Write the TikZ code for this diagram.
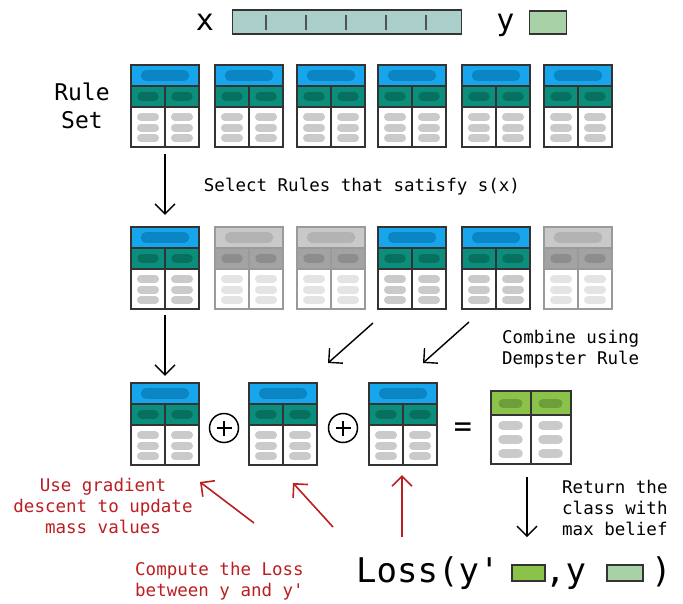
\documentclass[tikz,border=0pt]{standalone}
\usepackage{fontspec}
\setmonofont{DejaVu Sans Mono}
\usetikzlibrary{arrows.meta}

\definecolor{hdblue}{HTML}{17A6EC}
\definecolor{hdbluepill}{HTML}{0B85C4}
\definecolor{massteal}{HTML}{0B8E7C}
\definecolor{masstealpill}{HTML}{08705F}
\definecolor{bodypill}{HTML}{CACACA}
\definecolor{framedark}{HTML}{333333}
\definecolor{fadehd}{HTML}{C9C9C9}
\definecolor{fadehdpill}{HTML}{B3B3B3}
\definecolor{fadems}{HTML}{A3A3A3}
\definecolor{fademspill}{HTML}{8D8D8D}
\definecolor{fadebodypill}{HTML}{E4E4E4}
\definecolor{fadeframe}{HTML}{9A9A9A}
\definecolor{beliefgreen}{HTML}{8BC34A}
\definecolor{beliefpill}{HTML}{6E9E3A}
\definecolor{xbar}{HTML}{AACFCB}
\definecolor{ybox}{HTML}{A8D1A8}
\definecolor{lossred}{HTML}{BB1E22}

% colour sets for one rule table
\newcommand{\activecols}{\colorlet{hdc}{hdblue}\colorlet{hdp}{hdbluepill}%
  \colorlet{msc}{massteal}\colorlet{msp}{masstealpill}%
  \colorlet{bdp}{bodypill}\colorlet{frc}{framedark}}
\newcommand{\fadedcols}{\colorlet{hdc}{fadehd}\colorlet{hdp}{fadehdpill}%
  \colorlet{msc}{fadems}\colorlet{msp}{fademspill}%
  \colorlet{bdp}{fadebodypill}\colorlet{frc}{fadeframe}}

% rule table: name, left, top, colour set
\newcommand{\ruletab}[4]{%
  \begin{scope}[shift={(#2,#3)}]
    #4
    \fill[hdc] (0,0) rectangle (68,21);
    \fill[msc] (0,21) rectangle (68,42);
    \fill[white] (0,42) rectangle (68,82);
    \draw[pill=hdp, line width=10.5pt] (15,10.5) -- (53,10.5);
    \foreach \cx in {17,51} {
      \draw[pill=msp, line width=9.5pt] (\cx-6,31.5) -- (\cx+6,31.5);
      \foreach \cy in {52,62.5,73}
        \draw[pill=bdp, line width=8pt] (\cx-7,\cy) -- (\cx+7,\cy);
    }
    \draw[frc, line width=1.3pt] (0,0) rectangle (68,82)
      (0,21) -- (68,21) (0,42) -- (68,42) (34,21) -- (34,82);
    \node[minimum width=68pt, minimum height=82pt, inner sep=0pt] (#1) at (34,41) {};
  \end{scope}}

\begin{document}
\begin{tikzpicture}[x=1pt, y=-1pt,
    pill/.style={#1, line cap=round},
    txt/.style={font=\ttfamily\fontsize{17.5}{21}\selectfont, inner sep=0pt},
    note/.style={txt, text=lossred, align=center},
    bigtxt/.style={font=\ttfamily\fontsize{#1}{#1}\selectfont, inner sep=0pt},
    arr/.style={-{Straight Barb[length=10pt,width=20pt]}, line width=1.4pt},
    redarr/.style={arr, draw=lossred, line width=1.6pt},
    swatch/.style={draw=framedark, line width=1.4pt, inner sep=0pt}]

  \useasboundingbox (0,0) rectangle (683,603);

  % ====== input x and label y ======
  \node[bigtxt=30, anchor=base] (xlab) at (205,30) {x};
  \node[swatch, fill=xbar, minimum width=229pt, minimum height=24pt] (xvec) at (347,22) {};
  \foreach \tx in {266,306,346,386,426}
    \draw[framedark!85, line width=1.2pt] (\tx,15) -- (\tx,30);
  \node[bigtxt=30, anchor=base] (ylab) at (505.5,30) {y};
  \node[swatch, fill=ybox, minimum width=37pt, minimum height=23pt] (yvec) at (548,22.5) {};

  % ====== rule set ======
  \node[align=center, anchor=north, inner sep=0pt, font=\ttfamily\fontsize{23}{28}\selectfont] (rulelab) at (82,82.5) {Rule\\Set};
  \ruletab{r1}{131}{65}{\activecols}
  \ruletab{r2}{215}{65}{\activecols}
  \ruletab{r3}{297}{65}{\activecols}
  \ruletab{r4}{378}{65}{\activecols}
  \ruletab{r5}{462}{65}{\activecols}
  \ruletab{r6}{544}{65}{\activecols}

  \node[txt, anchor=base] (selectlab) at (362,191) {Select Rules that satisfy s(x)};

  % ====== selected rules ======
  \ruletab{s1}{131}{227}{\activecols}
  \ruletab{s2}{215}{227}{\fadedcols}
  \ruletab{s3}{297}{227}{\fadedcols}
  \ruletab{s4}{378}{227}{\activecols}
  \ruletab{s5}{462}{227}{\activecols}
  \ruletab{s6}{544}{227}{\fadedcols}

  \node[txt, align=left, anchor=north west] (combinelab) at (502,330) {Combine using\\Dempster Rule};

  % ====== combination ======
  \ruletab{c1}{131}{383}{\activecols}
  \ruletab{c2}{249}{383}{\activecols}
  \ruletab{c3}{369}{383}{\activecols}

  \node[circle, draw, line width=1.5pt, minimum size=29pt, inner sep=0pt] (o1) at (224,428) {};
  \node[circle, draw, line width=1.5pt, minimum size=29pt, inner sep=0pt] (o2) at (343,428) {};
  \foreach \o in {o1,o2}
    \draw[line width=1.5pt] (\o.center) +(-7.5,0) -- +(7.5,0) +(0,-7.5) -- +(0,7.5);
  \node[bigtxt=30] (eq) at (463,430) {=};

  % belief table
  \begin{scope}[shift={(491,391)}]
    \fill[beliefgreen] (0,0) rectangle (80,24);
    \fill[white] (0,24) rectangle (80,73);
    \foreach \cx in {19.5,59.5} {
      \draw[pill=beliefpill, line width=9pt] (\cx-7.5,12.5) -- (\cx+7.5,12.5);
      \foreach \cy in {34.5,48.5,62.5}
        \draw[pill=bodypill, line width=9.5pt] (\cx-7.5,\cy) -- (\cx+7.5,\cy);
    }
    \draw[framedark, line width=1.3pt] (0,0) rectangle (80,73)
      (0,24) -- (80,24) (40,0) -- (40,73);
    \node[minimum width=80pt, minimum height=73pt, inner sep=0pt] (g) at (40,36.5) {};
  \end{scope}

  % ====== loss ======
  \node[bigtxt=34, anchor=base west] (lossa) at (356,582) {Loss(y'};
  \node[swatch, fill=beliefgreen, minimum width=33pt, minimum height=16pt] (yhatbox) at (528.5,573) {};
  \node[bigtxt=34, anchor=base west] (lossb) at (545,582) {,y};
  \node[swatch, fill=ybox, minimum width=36pt, minimum height=16pt] (ytruebox) at (625,573) {};
  \node[bigtxt=34, anchor=base west] (lossc) at (651,582) {)};

  \node[txt, align=left, anchor=north west] (returnlab) at (562,480) {Return the\\class with\\max belief};
  \node[note, anchor=north] (gradlab) at (103,477.5) {Use gradient\\descent to update\\mass values};
  \node[note, align=left, anchor=north west] (losslab) at (135,562) {Compute the Loss\\between y and y'};

  % ====== connectors ======
  \coordinate (s4tail) at (373,323);
  \coordinate (c2head) at (328,363);
  \coordinate (s5tail) at (469,322);
  \coordinate (c3head) at (423,363);
  \coordinate (ghead) at (527,537);
  \coordinate (red1tail) at (254,523);
  \coordinate (red1head) at (200,482);
  \coordinate (red2tail) at (333,527);
  \coordinate (red2head) at (293,483);
  \coordinate (red3tail) at (402,537);
  \coordinate (red3head) at (402,475);

  \draw[arr, shorten <=7pt, shorten >=12pt] (r1) -- (s1);
  \draw[arr, shorten <=6pt, shorten >=7pt] (s1) -- (c1);
  \draw[arr] (s4tail) -- (c2head);
  \draw[arr] (s5tail) -- (c3head);
  \draw[arr] ([xshift=-4pt,yshift=-13pt]g.south) -- (ghead);
  \draw[redarr] (red1tail) -- (red1head);
  \draw[redarr] (red2tail) -- (red2head);
  \draw[redarr] (red3tail) -- (red3head);

\end{tikzpicture}
\end{document}
